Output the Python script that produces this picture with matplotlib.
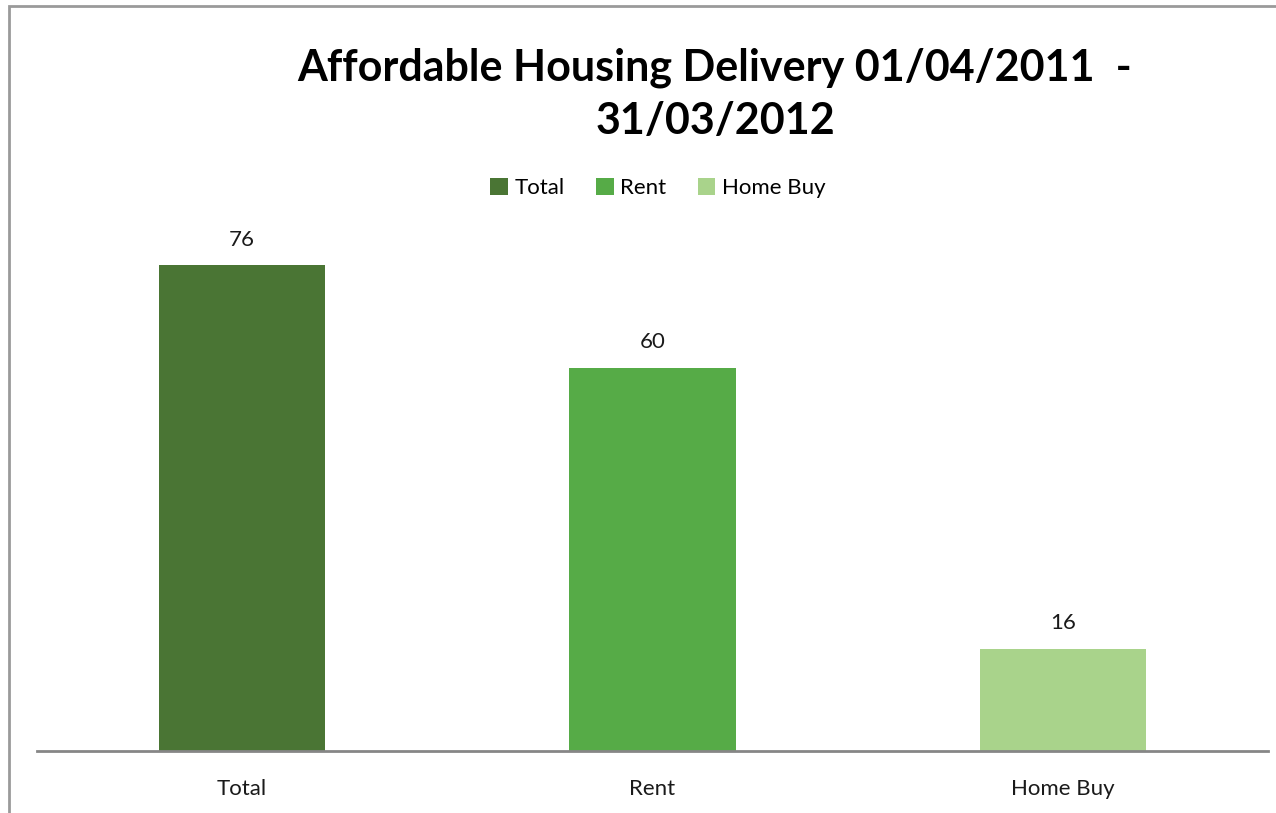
import matplotlib.pyplot as plt
from matplotlib.patches import Rectangle, Patch

categories = ["Total", "Rent", "Home Buy"]
values = [76, 60, 16]
colors = ["#4A7534", "#56AB47", "#A9D38B"]
title = "Affordable Housing Delivery 01/04/2011  -\n31/03/2012"

plt.rcParams["font.family"] = ["Lato", "DejaVu Sans"]

W, H = 1276, 813
fig = plt.figure(figsize=(W / 100, H / 100), dpi=100)

# axes placed in pixel terms: baseline y=751, x from 37 to 1268, 6.39 px per unit
left, right = 37, 1268
base = 751
ymax = 80
px_per_unit = 6.39
top = base - ymax * px_per_unit
ax = fig.add_axes([left / W, (H - base) / H, (right - left) / W, (base - top) / H])

x = range(len(categories))
bars = ax.bar(x, values, width=0.405, color=colors, zorder=2)
for b, v in zip(bars, values):
    ax.text(b.get_x() + b.get_width() / 2, v + 2.4, str(v),
            ha="center", va="bottom", fontsize=16, color="#1a1a1a")

ax.set_xlim(-0.5, len(categories) - 0.5)
ax.set_ylim(0, ymax)
ax.set_xticks(list(x))
ax.set_xticklabels(categories, fontsize=16, color="#1a1a1a")
ax.tick_params(axis="x", length=0, pad=20)
ax.set_yticks([])
for s in ["top", "right", "left"]:
    ax.spines[s].set_visible(False)
ax.spines["bottom"].set_color("#868686")
ax.spines["bottom"].set_linewidth(2)
ax.spines["bottom"].set_zorder(3)

fig.text(715 / W, 1 - 94 / H, title, ha="center", va="center",
         fontsize=31, fontweight="bold", linespacing=1.4)

handles = [Patch(facecolor=c, label=l) for c, l in zip(colors, categories)]
fig.legend(handles=handles, loc="center", bbox_to_anchor=(658 / W, 1 - 188 / H),
           ncol=3, frameon=False, fontsize=16, handlelength=0.8, handleheight=0.8,
           handletextpad=0.3, columnspacing=1.4)

# chart-area border (right and bottom edges fall outside the image)
fig.patches.append(Rectangle((9 / W, -0.1), 1.2, 1 - 6 / H + 0.1,
                             transform=fig.transFigure, fill=False,
                             edgecolor="#9a9a9a", linewidth=2))

fig.savefig("out.png", dpi=100, facecolor="white")
